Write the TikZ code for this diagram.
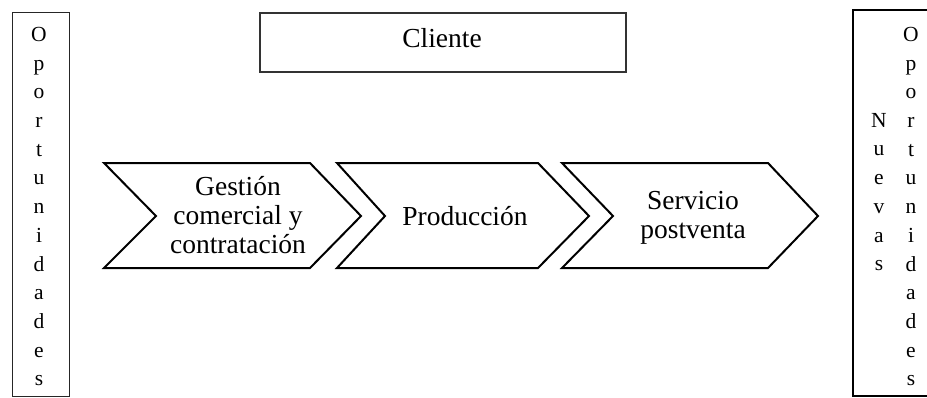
\documentclass[tikz,border=0pt]{standalone}
\usepackage{fontspec}
\setmainfont{Liberation Serif}
\begin{document}
\begin{tikzpicture}[x=1pt,y=-1pt,
  chev/.style={draw=black,line width=2pt,line join=miter},
  lbl/.style={align=center,inner sep=0pt,font=\fontsize{27.5}{29}\selectfont},
  vert/.style={align=center,inner sep=0pt,anchor=north,font=\fontsize{21.5}{28.7}\selectfont}]
\useasboundingbox (0,0) rectangle (927,397);
% side boxes
\draw[draw=black!85,line width=1pt] (12,12) rectangle (69,396);
\draw[draw=black,line width=2pt] (853,10) rectangle (930,396);
% client box
\draw[draw=black!80,line width=1.4pt] (260,13) rectangle (626,72);
\node[lbl] (cliente) at (442,38) {Cliente};
% chevrons
\draw[chev] (104,163) -- (310,163) -- (361,216) -- (310,268) -- (104,268) -- (156,216) -- cycle;
\draw[chev] (337,163) -- (538,163) -- (589,216) -- (538,268) -- (337,268) -- (385,216) -- cycle;
\draw[chev] (562,163) -- (768,163) -- (818,216) -- (768,268) -- (562,268) -- (613,216) -- cycle;
\node[lbl] (gestion) at (238,215) {Gestión\\comercial y\\contratación};
\node[lbl] (prod) at (465,216) {Producción};
\node[lbl] (serv) at (693,218) {Servicio\\postventa};
% vertical texts
\node[vert] (oport1) at (39,27) {O\\p\\o\\r\\t\\u\\n\\i\\d\\a\\d\\e\\s};
\node[vert] (oport2) at (911,27) {O\\p\\o\\r\\t\\u\\n\\i\\d\\a\\d\\e\\s};
\node[vert] (nuevas) at (879,113) {N\\u\\e\\v\\a\\s};
\end{tikzpicture}
\end{document}
